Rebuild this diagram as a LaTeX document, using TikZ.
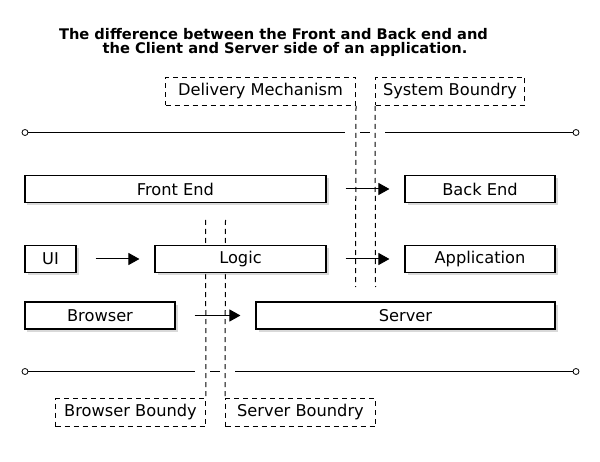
\documentclass[tikz,border=0pt]{standalone}
\usepackage{fontspec}
\setmainfont{DejaVu Sans}
\usetikzlibrary{shadows,arrows.meta}

\tikzset{
  part/.style={draw, line width=1.1bp, fill=white, minimum height=27bp, inner sep=0pt,
    font=\fontsize{16.3}{18}\selectfont,
    drop shadow={shadow xshift=2.5bp, shadow yshift=-2.5bp, opacity=0.3}},
  bound/.style={draw, line width=1bp, dash pattern=on 5bp off 4bp, minimum height=28bp,
    inner sep=0pt, font=\fontsize{16.3}{18}\selectfont},
  fence/.style={line width=1bp, dash pattern=on 5bp off 4bp},
  flow/.style={line width=1bp, -{Triangle[length=11bp, width=12bp]},
    shorten <=19bp, shorten >=15bp},
  edge/.style={line width=1bp},
  dot/.style={circle, draw, line width=0.8bp, fill=white, inner sep=0pt, minimum size=6bp}
}

\begin{document}
\begin{tikzpicture}[x=1bp, y=-1bp]

    \useasboundingbox (0,0) rectangle (600,462);

    % title
    \node[font=\bfseries\fontsize{14.7}{17}\selectfont] (title) at (273.5,34) {The difference between the Front and Back end and};
    \node[font=\bfseries\fontsize{14.7}{17}\selectfont] (subtitle) at (285,49) {the Client and Server side of an application.};

    % boundaries
    \node[bound, minimum width=190bp] (delivery) at (260.5,91.5) {Delivery Mechanism};
    \node[bound, minimum width=149bp] (system) at (450,91.5) {System Boundry};
    \node[bound, minimum width=150bp] (browserb) at (130.5,412.5) {Browser Boundy};
    \node[bound, minimum width=150bp] (serverb) at (300.5,412.5) {Server Boundry};

    \coordinate (deliveryend) at (355.5,287);
    \coordinate (systemend) at (375.5,287);
    \coordinate (browserstart) at (205.5,220);
    \coordinate (serverstart) at (225.5,220);
    \draw[fence] (delivery.south east) -- (deliveryend);
    \draw[fence] (system.south west) -- (systemend);
    \draw[fence] (browserstart) -- (browserb.north east);
    \draw[fence] (serverstart) -- (serverb.north west);

    \node[dot] (lefttop) at (25,132.5) {};
    \node[dot] (righttop) at (576,132.5) {};
    \draw[edge] (lefttop) -- (345,132.5);
    \draw[edge] (360,132.5) -- (370,132.5);
    \draw[edge] (385,132.5) -- (righttop);

    \node[dot] (leftbottom) at (25,371.5) {};
    \node[dot] (rightbottom) at (576,371.5) {};
    \draw[edge] (leftbottom) -- (195,371.5);
    \draw[edge] (210,371.5) -- (220,371.5);
    \draw[edge] (235,371.5) -- (rightbottom);

    % rows
    \node[part, minimum width=301bp] (front) at (175.5,189) {Front End};
    \node[part, minimum width=150bp] (back) at (480,189) {Back End};

    \node[part, minimum width=51bp] (ui) at (50.5,259) {UI};
    \node[part, minimum width=171bp] (logic) at (240.5,259) {Logic};
    \node[part, minimum width=150bp] (app) at (480,259) {Application};

    \node[part, minimum width=150bp] (browser) at (100,315.5) {Browser};
    \node[part, minimum width=299bp] (server) at (405.5,315.5) {Server};

    \draw[flow] (front) -- (back);
    \draw[flow] (ui) -- (logic);
    \draw[flow] (logic) -- (app);
    \draw[flow] (browser) -- (server);

\end{tikzpicture}
\end{document}
